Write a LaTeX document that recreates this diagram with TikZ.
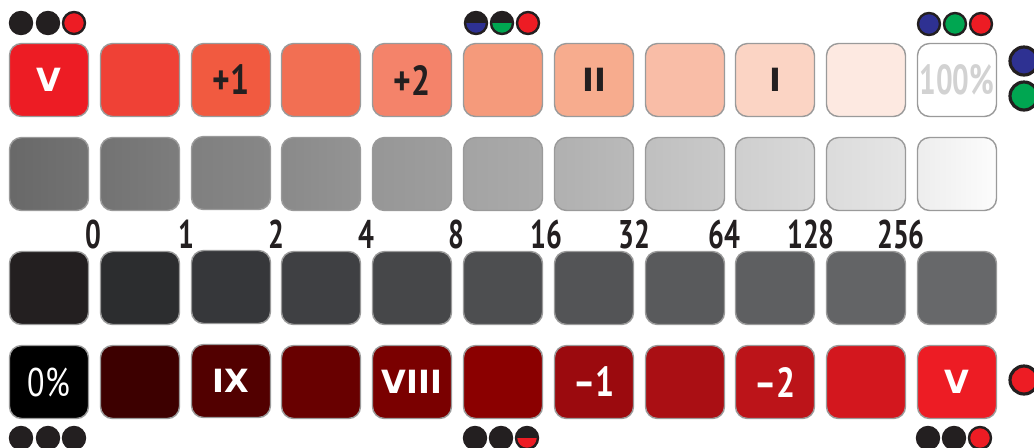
\documentclass[tikz,border=0pt]{standalone}
\usepackage{fontspec}
\newfontfamily\romfont{DejaVu Sans}
\newfontfamily\numfont[FakeStretch=0.8]{PT Sans}
\newfontfamily\narrowfont[FakeStretch=0.7]{PT Sans}
\usepackage{tikz}
\usepackage{xcolor}
\definecolor{TileEdge}{HTML}{9A9A9A}
\definecolor{InkDark}{HTML}{231F20}
\definecolor{PaleGray}{HTML}{D2D2D2}
\definecolor{DotBlue}{HTML}{2E3192}
\definecolor{DotGreen}{HTML}{00A651}
\definecolor{DotRed}{HTML}{ED1C24}
\definecolor{TintA}{HTML}{ED1C24}
\definecolor{TintB}{HTML}{EF4136}
\definecolor{TintC}{HTML}{F15A40}
\definecolor{TintD}{HTML}{F26F53}
\definecolor{TintE}{HTML}{F4836A}
\definecolor{TintF}{HTML}{F59A7B}
\definecolor{TintG}{HTML}{F7AC8E}
\definecolor{TintH}{HTML}{F9BDA7}
\definecolor{TintI}{HTML}{FBD4C4}
\definecolor{TintJ}{HTML}{FDE9E1}
\definecolor{DarkA}{HTML}{231F20}
\definecolor{DarkB}{HTML}{2C2D2F}
\definecolor{DarkC}{HTML}{36373A}
\definecolor{DarkD}{HTML}{3F4043}
\definecolor{DarkE}{HTML}{464749}
\definecolor{DarkF}{HTML}{4D4E50}
\definecolor{DarkG}{HTML}{535456}
\definecolor{DarkH}{HTML}{595A5C}
\definecolor{DarkI}{HTML}{5E5F61}
\definecolor{DarkJ}{HTML}{636466}
\definecolor{DarkK}{HTML}{67686A}
\definecolor{ShadeB}{HTML}{3D0000}
\definecolor{ShadeC}{HTML}{520000}
\definecolor{ShadeD}{HTML}{680000}
\definecolor{ShadeE}{HTML}{7A0000}
\definecolor{ShadeF}{HTML}{8B0000}
\definecolor{ShadeG}{HTML}{9B0A0E}
\definecolor{ShadeH}{HTML}{AA0F14}
\definecolor{ShadeI}{HTML}{BC1419}
\definecolor{ShadeJ}{HTML}{D3171E}
\definecolor{ShadeK}{HTML}{ED1C24}

\begin{document}
\begin{tikzpicture}[x=0.5pt,y=-0.5pt,
  tile/.style={draw=TileEdge,line width=0.7pt,rounded corners=6pt,
    minimum width=39.5pt,minimum height=36.5pt,inner sep=0pt},
  roman/.style={font=\romfont\bfseries\fontsize{16}{16}\selectfont,text=white},
  sign/.style={font=\numfont\bfseries\fontsize{21}{21}\selectfont,text=InkDark},
  pct/.style={font=\numfont\fontsize{20}{20}\selectfont,text=white},
  numlabel/.style={font=\narrowfont\bfseries\fontsize{20}{20}\selectfont,text=InkDark},
  ball/.style={circle,draw=InkDark,line width=1.2pt,fill=#1,minimum size=11pt,inner sep=0pt},
  halfball/.style={ball=InkDark,path picture={\fill[#1]
    (path picture bounding box.west) rectangle (path picture bounding box.south east);}},
  bigball/.style={ball=#1,minimum size=14pt,line width=1.6pt}]
  \useasboundingbox (0,0) rectangle (1034,447);
  \node[tile,fill=TintA,roman] (tint1) at (49,80) {V};
  \node[tile,fill=TintB] (tint2) at (140,80) {};
  \node[tile,fill=TintC,sign] (tint3) at (231,80) {+1};
  \node[tile,fill=TintD] (tint4) at (321,80) {};
  \node[tile,fill=TintE,sign] (tint5) at (412,80) {+2};
  \node[tile,fill=TintF] (tint6) at (503,80) {};
  \node[tile,fill=TintG,roman,text=InkDark] (tint7) at (594,80) {II};
  \node[tile,fill=TintH] (tint8) at (685,80) {};
  \node[tile,fill=TintI,roman,text=InkDark] (tint9) at (775,80) {I};
  \node[tile,fill=TintJ] (tint10) at (866,80) {};
  \node[tile,fill=white,font=\narrowfont\bfseries\fontsize{21}{21}\selectfont,text=PaleGray] (tint11) at (957,80) {100\%};
  \node[tile,left color=black!59,right color=black!55] (gray1) at (49,174) {};
  \node[tile,left color=black!55,right color=black!51] (gray2) at (140,174) {};
  \node[tile,left color=black!50,right color=black!47] (gray3) at (231,173) {};
  \node[tile,left color=black!46,right color=black!42] (gray4) at (321,174) {};
  \node[tile,left color=black!41,right color=black!38] (gray5) at (412,174) {};
  \node[tile,left color=black!36,right color=black!33] (gray6) at (503,174) {};
  \node[tile,left color=black!31,right color=black!27] (gray7) at (594,174) {};
  \node[tile,left color=black!25,right color=black!21] (gray8) at (685,174) {};
  \node[tile,left color=black!19,right color=black!15] (gray9) at (775,174) {};
  \node[tile,left color=black!14,right color=black!10] (gray10) at (866,174) {};
  \node[tile,left color=black!7,right color=black!1] (gray11) at (957,174) {};
  \node[numlabel] (n0) at (93,234) {0};
  \node[numlabel] (n1) at (186,234) {1};
  \node[numlabel] (n2) at (276,234) {2};
  \node[numlabel] (n4) at (366,234) {4};
  \node[numlabel] (n8) at (456,234) {8};
  \node[numlabel] (n16) at (546,234) {16};
  \node[numlabel] (n32) at (634,234) {32};
  \node[numlabel] (n64) at (724,234) {64};
  \node[numlabel] (n128) at (811,234) {128};
  \node[numlabel] (n256) at (901,234) {256};
  \node[tile,fill=DarkA] (dark1) at (49,288) {};
  \node[tile,fill=DarkB] (dark2) at (140,288) {};
  \node[tile,fill=DarkC] (dark3) at (231,287) {};
  \node[tile,fill=DarkD] (dark4) at (321,288) {};
  \node[tile,fill=DarkE] (dark5) at (412,288) {};
  \node[tile,fill=DarkF] (dark6) at (503,288) {};
  \node[tile,fill=DarkG] (dark7) at (594,288) {};
  \node[tile,fill=DarkH] (dark8) at (685,288) {};
  \node[tile,fill=DarkI] (dark9) at (775,288) {};
  \node[tile,fill=DarkJ] (dark10) at (866,288) {};
  \node[tile,fill=DarkK] (dark11) at (957,288) {};
  \node[tile,fill=black,pct] (shade1) at (49,382) {0\%};
  \node[tile,fill=ShadeB] (shade2) at (140,382) {};
  \node[tile,fill=ShadeC,roman] (shade3) at (231,381) {IX};
  \node[tile,fill=ShadeD] (shade4) at (321,382) {};
  \node[tile,fill=ShadeE,roman] (shade5) at (412,382) {VIII};
  \node[tile,fill=ShadeF] (shade6) at (503,382) {};
  \node[tile,fill=ShadeG,sign,text=white] (shade7) at (594,382) {–1};
  \node[tile,fill=ShadeH] (shade8) at (685,382) {};
  \node[tile,fill=ShadeI,sign,text=white] (shade9) at (775,382) {–2};
  \node[tile,fill=ShadeJ] (shade10) at (866,382) {};
  \node[tile,fill=ShadeK,roman] (shade11) at (957,382) {V};
  \node[ball=InkDark] (topL1) at (21,23) {};
  \node[ball=InkDark] (topL2) at (48,23) {};
  \node[ball=DotRed] (topL3) at (74,23) {};
  \node[halfball=DotBlue] (topM1) at (476,23) {};
  \node[halfball=DotGreen] (topM2) at (502,23) {};
  \node[ball=DotRed] (topM3) at (528,23) {};
  \node[ball=DotBlue] (topR1) at (929,24) {};
  \node[ball=DotGreen] (topR2) at (955,24) {};
  \node[ball=DotRed] (topR3) at (981,24) {};
  \node[bigball=DotBlue] (sideB) at (1024,61) {};
  \node[bigball=DotGreen] (sideG) at (1024,96) {};
  \node[bigball=DotRed] (sideR) at (1024,380) {};
  \node[ball=InkDark] (botL1) at (21,438) {};
  \node[ball=InkDark] (botL2) at (48,438) {};
  \node[ball=InkDark] (botL3) at (74,438) {};
  \node[ball=InkDark] (botM1) at (475,438) {};
  \node[ball=InkDark] (botM2) at (501,438) {};
  \node[halfball=DotRed] (botM3) at (527,438) {};
  \node[ball=InkDark] (botR1) at (928,438) {};
  \node[ball=InkDark] (botR2) at (954,438) {};
  \node[ball=DotRed] (botR3) at (980,438) {};
\end{tikzpicture}
\end{document}
